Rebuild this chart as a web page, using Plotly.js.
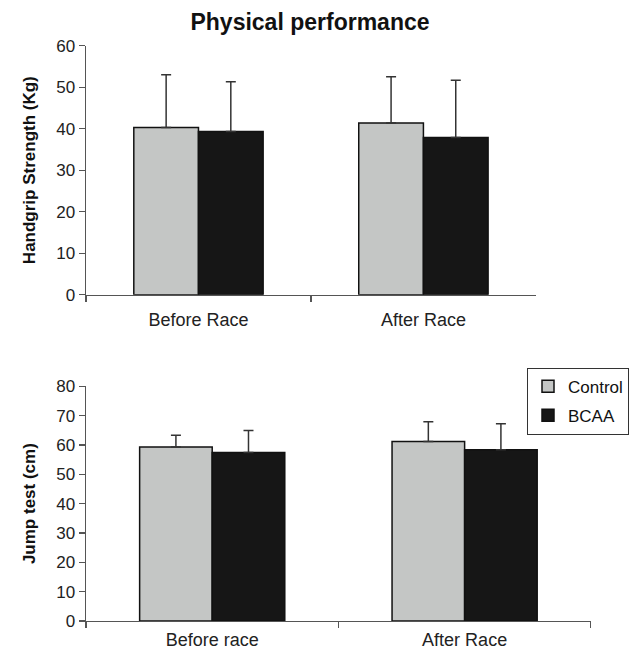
<!DOCTYPE html>
<html>
<head>
<meta charset="utf-8">
<script src="https://cdn.plot.ly/plotly-3.0.1.min.js"></script>
<style>html,body{margin:0;padding:0;background:#fff;}#chart{width:630px;height:651px;}</style>
</head>
<body>
<div id="chart"></div>
<script>
// Handgrip strength (Kg)
var gripCategories = ["Before Race", "After Race"];
var gripControl = [40.3, 41.4];
var gripControlErr = [12.7, 11.1];
var gripBCAA = [39.3, 37.9];
var gripBCAAErr = [12.0, 13.8];

// Jump test (cm)
var jumpCategories = ["Before race", "After Race"];
var jumpControl = [59.3, 61.2];
var jumpControlErr = [4.0, 6.7];
var jumpBCAA = [57.4, 58.4];
var jumpBCAAErr = [7.5, 8.8];

var seriesNames = ["Control", "BCAA"];
var controlColor = "#c4c6c5";
var bcaaColor = "#161616";

function errSpec(arr) {
  return {type: "data", array: arr, symmetric: false, arrayminus: arr.map(function(){return 0;}),
          color: "#333333", thickness: 1.5, width: 5};
}

var traces = [
  {type: "bar", x: gripCategories, y: gripControl, name: seriesNames[0], legendgroup: "c", showlegend: false,
   xaxis: "x", yaxis: "y", marker: {color: controlColor, line: {color: "#111", width: 1.5}}, error_y: errSpec(gripControlErr)},
  {type: "bar", x: gripCategories, y: gripBCAA, name: seriesNames[1], legendgroup: "b", showlegend: false,
   xaxis: "x", yaxis: "y", marker: {color: bcaaColor, line: {color: "#111", width: 1.5}}, error_y: errSpec(gripBCAAErr)},
  {type: "bar", x: jumpCategories, y: jumpControl, name: seriesNames[0], legendgroup: "c",
   xaxis: "x2", yaxis: "y2", marker: {color: controlColor, line: {color: "#111", width: 1.5}}, error_y: errSpec(jumpControlErr)},
  {type: "bar", x: jumpCategories, y: jumpBCAA, name: seriesNames[1], legendgroup: "b",
   xaxis: "x2", yaxis: "y2", marker: {color: bcaaColor, line: {color: "#111", width: 1.5}}, error_y: errSpec(jumpBCAAErr)}
];

var fontFam = "Liberation Sans, Arial, sans-serif";
var axisCommon = {showgrid: false, zeroline: false, showline: true, linecolor: "#555", linewidth: 1.5,
  ticks: "outside", ticklen: 6, tickcolor: "#555", tickwidth: 1.2,
  tickfont: {family: fontFam, size: 17, color: "#222"}, automargin: false, fixedrange: true};

function ax(extra) { var o = {}; for (var k in axisCommon) o[k] = axisCommon[k]; for (var k2 in extra) o[k2] = extra[k2]; return o; }

var catFont = {family: fontFam, size: 18, color: "#222"};

var layout = {
  width: 630, height: 651,
  margin: {l: 86, r: 0, t: 0, b: 0, autoexpand: false},
  paper_bgcolor: "#fff", plot_bgcolor: "#fff",
  barmode: "group", bargap: 0.425, bargroupgap: 0,
  font: {family: fontFam, color: "#222"},
  title: {text: "<b>Physical performance</b>", font: {family: fontFam, size: 23, color: "#111"},
          x: 310/630, xref: "container", xanchor: "center", y: 1 - 22/651, yref: "container", yanchor: "middle"},
  xaxis: ax({anchor: "y", domain: [0, 0.827], type: "category", range: [-0.5, 1.5], tickson: "boundaries",
             tickfont: catFont, ticklabelstandoff: 8}),
  yaxis: ax({anchor: "x", domain: [0.5473, 0.9298], range: [0, 60], dtick: 10,
             title: {text: "<b>Handgrip Strength (Kg)</b>", font: {family: fontFam, size: 17, color: "#111"}, standoff: 16}}),
  xaxis2: ax({anchor: "y2", domain: [0, 0.928], type: "category", range: [-0.5, 1.5], tickson: "boundaries",
             tickfont: catFont, ticklabelstandoff: 2}),
  yaxis2: ax({anchor: "x2", domain: [0.0461, 0.4066], range: [0, 80], dtick: 10,
             title: {text: "<b>Jump test (cm)</b>", font: {family: fontFam, size: 17, color: "#111"}, standoff: 16}}),
  showlegend: true,
  legend: {xref: "container", yref: "container", x: 629/630, y: 1 - 367.7/651, xanchor: "right", yanchor: "top",
           bgcolor: "#fff", bordercolor: "#333", borderwidth: 1,
           font: {family: fontFam, size: 17, color: "#111"}, itemwidth: 30, tracegroupgap: 4, traceorder: "grouped"}
};

Plotly.newPlot("chart", traces, layout, {displayModeBar: false, staticPlot: true});
</script>
</body>
</html>
